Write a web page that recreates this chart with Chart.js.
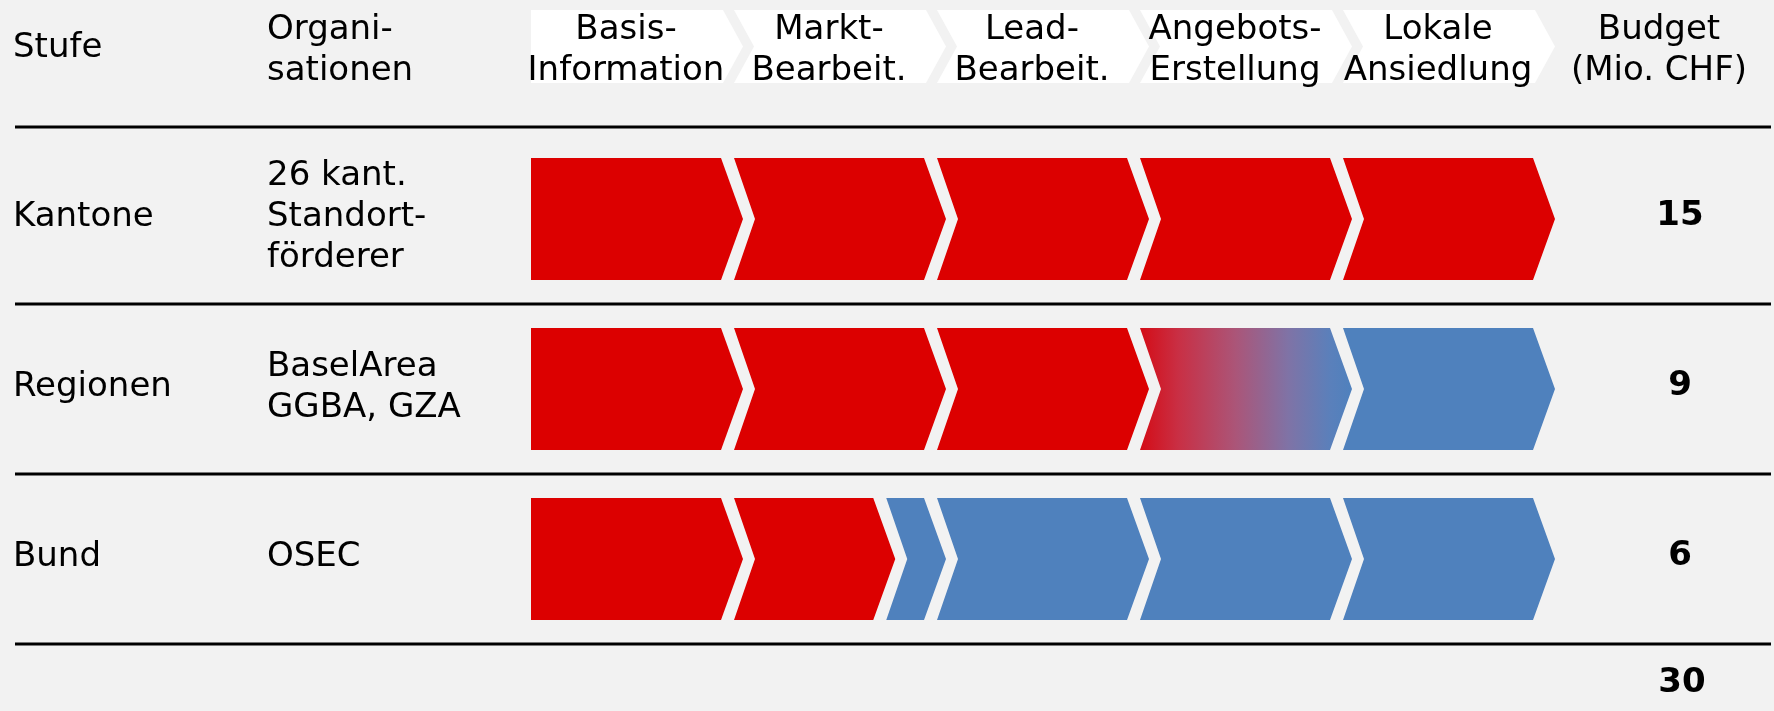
<!DOCTYPE html>
<html>
<head>
<meta charset="utf-8">
<script src="https://cdn.jsdelivr.net/npm/chart.js@4/dist/chart.umd.min.js"></script>
<style>
  html, body { margin: 0; padding: 0; background: #f2f2f2; overflow: hidden; }
  #wrap { width: 1774px; height: 711px; position: relative; }
</style>
</head>
<body>
<div id="wrap"><canvas id="c" width="1774" height="711"></canvas></div>
<script>
// ---------- data ----------
const rowLabels = ['Kantone', 'Regionen', 'Bund'];
const orgLabels = [['26 kant.', 'Standort-', 'förderer'], ['BaselArea', 'GGBA, GZA'], ['OSEC']];
const stageLabels = [['Basis-', 'Information'], ['Markt-', 'Bearbeit.'], ['Lead-', 'Bearbeit.'], ['Angebots-', 'Erstellung'], ['Lokale', 'Ansiedlung']];
const headerLeft = ['Stufe'];
const headerOrg = ['Organi-', 'sationen'];
const headerBudget = ['Budget', '(Mio. CHF)'];
const budgets = [15, 9, 6];
const budgetTotal = 30;

// segments along the process chain (stage units 0..5) and who carries them
const kantoneSegments = [[0, 1], [1, 2], [2, 3], [3, 4], [4, 5]];
const kantoneStatus = ['aktiv', 'aktiv', 'aktiv', 'aktiv', 'aktiv'];
const regionenSegments = [[0, 1], [1, 2], [2, 3], [3, 4], [4, 5]];
const regionenStatus = ['aktiv', 'aktiv', 'aktiv', 'übergang', 'passiv'];
const bundSegments = [[0, 1], [1, 1.75], [1.75, 2], [2, 3], [3, 4], [4, 5]];
const bundStatus = ['aktiv', 'aktiv', 'passiv', 'passiv', 'passiv', 'passiv'];

// ---------- build datasets ----------
const allSegments = [kantoneSegments, regionenSegments, bundSegments];
const allStatus = [kantoneStatus, regionenStatus, bundStatus];
const maxSeg = Math.max(...allSegments.map(s => s.length));
const datasets = [];
for (let j = 0; j < maxSeg; j++) {
  datasets.push({
    label: 'Segment ' + (j + 1),
    data: allSegments.map(s => (s[j] ? s[j] : null)),
    status: allStatus.map(s => (s[j] ? s[j] : null)),
    grouped: false,
    barThickness: 122,
    backgroundColor: 'rgba(0,0,0,0)',
    borderWidth: 0
  });
}

const RED = '#DC0000';
const BLUE = '#4F81BD';
const FONT = '34px "DejaVu Sans", Verdana, sans-serif';
const BOLD = 'bold 34px "DejaVu Sans", Verdana, sans-serif';

function chevronPath(ctx, x0, x1, top, bottom, first, notch, backCut, overhang) {
  const mid = (top + bottom) / 2;
  ctx.beginPath();
  ctx.moveTo(x0, top);
  ctx.lineTo(x1 - backCut, top);
  ctx.lineTo(x1 + overhang, mid);
  ctx.lineTo(x1 - backCut, bottom);
  ctx.lineTo(x0, bottom);
  if (!first) ctx.lineTo(x0 + notch, mid);
  ctx.closePath();
}

const chevronPlugin = {
  id: 'chevrons',
  beforeDraw(chart) {
    const ctx = chart.ctx;
    ctx.save();
    ctx.fillStyle = '#f2f2f2';
    ctx.fillRect(0, 0, chart.width, chart.height);
    ctx.restore();
  },
  afterDatasetsDraw(chart) {
    const ctx = chart.ctx;
    const xs = chart.scales.x;
    const ys = chart.scales.y;
    ctx.save();

    // header chevrons (white)
    stageLabels.forEach((lbl, i) => {
      const x0 = xs.getPixelForValue(i);
      const x1 = xs.getPixelForValue(i + 1);
      ctx.fillStyle = '#ffffff';
      chevronPath(ctx, x0, x1, 10, 83, i === 0, 20, 11, 9);
      ctx.fill();
    });

    // process chevrons
    chart.data.datasets.forEach((ds, di) => {
      const meta = chart.getDatasetMeta(di);
      meta.data.forEach((el, i) => {
        const raw = ds.data[i];
        if (!raw) return;
        const p = el.getProps(['x', 'y', 'base', 'height'], true);
        const x0 = Math.min(p.x, p.base);
        const x1 = Math.max(p.x, p.base);
        const top = p.y - p.height / 2;
        const bottom = p.y + p.height / 2;
        const first = raw[0] === xs.min;
        const st = ds.status[i];
        if (st === 'aktiv') ctx.fillStyle = RED;
        else if (st === 'passiv') ctx.fillStyle = BLUE;
        else {
          const g = ctx.createLinearGradient(x0, 0, x1 + 9, 0);
          g.addColorStop(0, '#d40c16');
          g.addColorStop(0.18, '#c92f44');
          g.addColorStop(0.45, '#ab5578');
          g.addColorStop(0.7, '#7f73a6');
          g.addColorStop(0.9, '#5a80bb');
          g.addColorStop(1, BLUE);
          ctx.fillStyle = g;
        }
        chevronPath(ctx, x0, x1, top, bottom, first, 21, 13, 9);
        ctx.fill();
      });
    });

    // separator lines
    ctx.strokeStyle = '#000000';
    ctx.lineWidth = 3;
    const lineYs = [127, ys.getPixelForValue(0.5), ys.getPixelForValue(1.5), ys.getPixelForValue(2.5)];
    lineYs.forEach(yy => {
      ctx.beginPath();
      ctx.moveTo(15, yy);
      ctx.lineTo(1771, yy);
      ctx.stroke();
    });

    // header texts
    ctx.fillStyle = '#000000';
    ctx.font = FONT;
    ctx.textBaseline = 'alphabetic';
    ctx.textAlign = 'left';
    ctx.fillText(headerLeft[0], 13, 57);
    headerOrg.forEach((t, k) => ctx.fillText(t, 267, 39 + k * 41));
    ctx.textAlign = 'center';
    stageLabels.forEach((lines, i) => {
      const x0 = xs.getPixelForValue(i);
      const x1 = xs.getPixelForValue(i + 1);
      const cx = (x0 + x1 - 13) / 2;
      lines.forEach((t, k) => ctx.fillText(t, cx, 39 + k * 41));
    });
    headerBudget.forEach((t, k) => ctx.fillText(t, 1659, 39 + k * 41));

    // row texts
    rowLabels.forEach((lbl, i) => {
      const cy = ys.getPixelForValue(i);
      ctx.textAlign = 'left';
      ctx.font = FONT;
      ctx.fillText(lbl, 13, cy + 7);
      const lines = orgLabels[i];
      const firstBase = cy + 7 - (lines.length - 1) * 41 / 2;
      lines.forEach((t, k) => ctx.fillText(t, 267, firstBase + k * 41));
      ctx.textAlign = 'center';
      ctx.font = BOLD;
      ctx.fillText(String(budgets[i]), 1680, cy + 6);
    });
    ctx.font = BOLD;
    ctx.textAlign = 'center';
    ctx.fillText(String(budgetTotal), 1682, ys.getPixelForValue(2.5) + 48);

    ctx.restore();
  }
};

new Chart(document.getElementById('c').getContext('2d'), {
  type: 'bar',
  data: { labels: rowLabels, datasets },
  options: {
    indexAxis: 'y',
    responsive: false,
    animation: false,
    events: [],
    layout: { padding: { left: 531, right: 228, top: 134, bottom: 67 } },
    scales: {
      x: { type: 'linear', min: 0, max: 5, display: false },
      y: { type: 'category', display: false, offset: true }
    },
    plugins: { legend: { display: false }, tooltip: { enabled: false } }
  },
  plugins: [chevronPlugin]
});
</script>
</body>
</html>
